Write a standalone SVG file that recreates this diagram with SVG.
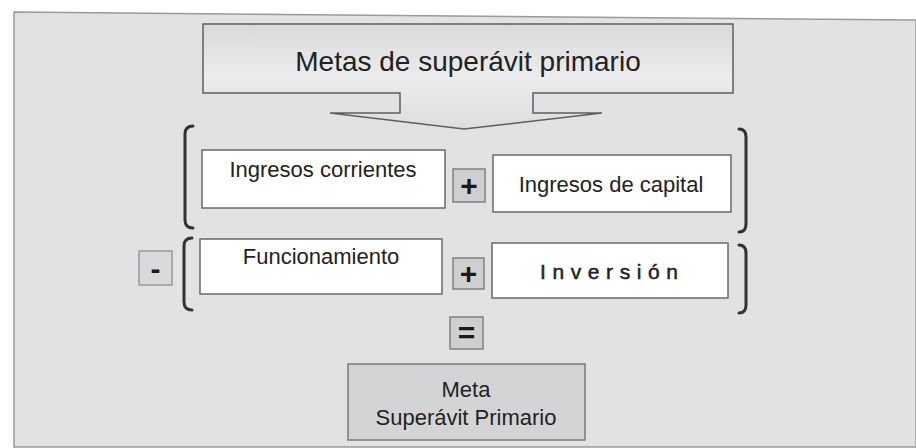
<svg xmlns="http://www.w3.org/2000/svg" width="916" height="448" viewBox="0 0 916 448">
  <style>
    text { font-family: "Liberation Sans", Arial, sans-serif; fill: #222; }
    .lbl { font-size: 22px; text-anchor: middle; }
    .box { fill: #ffffff; stroke: #6a6a6a; stroke-width: 1.5; }
    .op { fill: #cfcfcf; stroke: #808080; stroke-width: 1.5; }
    .opt { font-size: 30px; font-weight: bold; text-anchor: middle; fill: #1a1a1a; }
    .br { fill: none; stroke: #333; stroke-width: 3; stroke-linecap: round; }
  </style>
  <defs>
    <linearGradient id="callout" x1="0" y1="0" x2="0" y2="1">
      <stop offset="0" stop-color="#d9d9db"/>
      <stop offset="0.5" stop-color="#ececee"/>
      <stop offset="1" stop-color="#dedee0"/>
    </linearGradient>
  </defs>
  <rect x="0" y="0" width="916" height="448" fill="#ffffff"/>
  <path d="M14,447 L14,12 L916,20 L916,447 Z" fill="#e2e2e4" stroke="#9a9a9a" stroke-width="1.5"/>

  <g id="meta-top">
    <path d="M203,24 L733,24 L733,93 L533,93 L533,113 L602,113 L464,129 L330,113 L400,113 L400,93 L203,93 Z" fill="url(#callout)" stroke="#5e5e5e" stroke-width="1.5"/>
    <text x="468" y="71" font-size="28" text-anchor="middle">Metas de superávit primario</text>
  </g>

  <g id="brackets">
    <path class="br" d="M193,126 Q185,126 185,134 L185,220 Q185,228 193,228"/>
    <path class="br" d="M192,238 Q184,238 184,246 L184,302 Q184,310 192,310"/>
    <path class="br" d="M739,129 Q746,129 746,137 L746,224 Q746,232 739,232"/>
    <path class="br" d="M739,245 Q746,245 746,253 L746,305 Q746,313 739,313"/>
  </g>

  <g id="ingresos-corrientes">
    <rect class="box" x="202" y="150" width="243" height="58"/>
    <text class="lbl" x="323" y="177">Ingresos corrientes</text>
  </g>
  <g id="plus-1">
    <rect class="op" x="453" y="169" width="32" height="33"/>
    <text class="opt" x="469" y="196">+</text>
  </g>
  <g id="ingresos-capital">
    <rect class="box" x="493" y="155" width="238" height="57"/>
    <text class="lbl" x="611" y="192">Ingresos de capital</text>
  </g>

  <g id="minus">
    <rect x="139" y="251" width="33" height="34" fill="#d9d9db" stroke="#999" stroke-width="1.5"/>
    <text class="opt" x="155.5" y="279">-</text>
  </g>
  <g id="funcionamiento">
    <rect class="box" x="200" y="239" width="242" height="55"/>
    <text class="lbl" x="321" y="264">Funcionamiento</text>
  </g>
  <g id="plus-2">
    <rect class="op" x="453" y="258" width="31" height="31"/>
    <text class="opt" x="468.5" y="284">+</text>
  </g>
  <g id="inversion">
    <rect class="box" x="492" y="243" width="236" height="55"/>
    <text x="540" y="279" font-size="21" letter-spacing="6.6" stroke="#222" stroke-width="0.5">Inversión</text>
  </g>

  <g id="equals">
    <rect class="op" x="450" y="317" width="33" height="32"/>
    <text class="opt" x="466.5" y="343">=</text>
  </g>
  <g id="meta-bottom">
    <rect x="348" y="364" width="237" height="76" fill="#d4d4d6" stroke="#7a7a7a" stroke-width="1.5"/>
    <text class="lbl" x="466" y="397">Meta</text>
    <text class="lbl" x="466" y="425">Superávit Primario</text>
  </g>

  <g id="connectors"></g>
</svg>
